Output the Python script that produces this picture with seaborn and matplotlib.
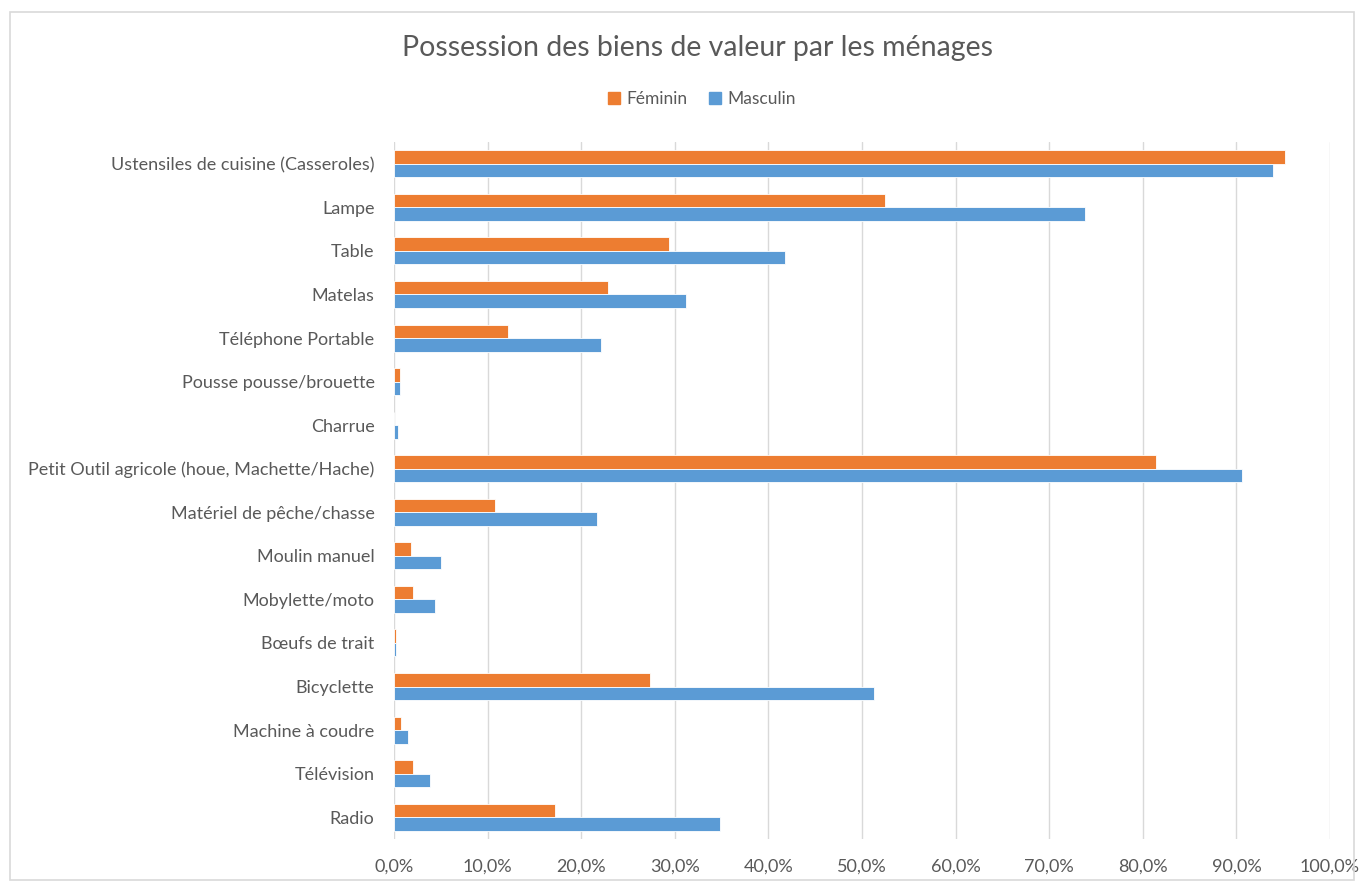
import matplotlib
matplotlib.use("Agg")
import matplotlib.pyplot as plt
import matplotlib.patches as mpatches
from matplotlib.ticker import FuncFormatter, MultipleLocator
import seaborn as sns
import pandas as pd

categories = [
    "Ustensiles de cuisine (Casseroles)",
    "Lampe",
    "Table",
    "Matelas",
    "Téléphone Portable",
    "Pousse pousse/brouette",
    "Charrue",
    "Petit Outil agricole (houe, Machette/Hache)",
    "Matériel de pêche/chasse",
    "Moulin manuel",
    "Mobylette/moto",
    "Bœufs de trait",
    "Bicyclette",
    "Machine à coudre",
    "Télévision",
    "Radio",
]
feminin = [0.952, 0.525, 0.294, 0.229, 0.122, 0.006, 0.000, 0.814, 0.108,
           0.018, 0.020, 0.0025, 0.273, 0.008, 0.020, 0.172]
masculin = [0.939, 0.738, 0.418, 0.312, 0.221, 0.006, 0.004, 0.906, 0.217,
            0.050, 0.044, 0.0025, 0.513, 0.015, 0.038, 0.348]
series_names = ["Féminin", "Masculin"]
colors = ["#ED7D31", "#5B9BD5"]

df = pd.DataFrame({
    "bien": categories * 2,
    "valeur": feminin + masculin,
    "sexe": [series_names[0]] * len(categories) + [series_names[1]] * len(categories),
})

sns.set_theme(style="white")
plt.rcParams["font.family"] = ["Lato", "DejaVu Sans"]
text_color = "#595959"

W, H = 1364, 884
fig = plt.figure(figsize=(W / 100, H / 100), dpi=100)
fig.patch.set_facecolor("white")

ax = fig.add_axes([394 / W, 1 - 839 / H, (1330 - 394) / W, (839 - 142) / H])

sns.barplot(data=df, x="valeur", y="bien", hue="sexe", order=categories,
            hue_order=series_names, palette=colors, saturation=1, width=0.62,
            orient="h", edgecolor="white", linewidth=0.6, ax=ax, legend=False)

ax.set_xlim(0, 1.0)
ax.xaxis.set_major_locator(MultipleLocator(0.1))
ax.xaxis.set_major_formatter(FuncFormatter(lambda v, p: f"{v*100:.1f}%".replace(".", ",")))
ax.grid(axis="x", color="#D9D9D9", linewidth=1.0)
ax.set_axisbelow(True)
for s in ax.spines.values():
    s.set_visible(False)
ax.set_xlabel("")
ax.set_ylabel("")
ax.tick_params(axis="both", length=0, labelsize=13, labelcolor=text_color)
ax.tick_params(axis="y", pad=14)
ax.tick_params(axis="x", pad=14)

fig.text(697 / W, 1 - 48 / H, "Possession des biens de valeur par les ménages",
         ha="center", va="center", fontsize=20.5, color=text_color)

handles = [mpatches.Patch(color=c, label=n) for c, n in zip(colors, series_names)]
fig.legend(handles=handles, loc="center", bbox_to_anchor=(702 / W, 1 - 99 / H),
           ncol=2, frameon=False, fontsize=12.5, handlelength=0.7, handleheight=0.7,
           handletextpad=0.4, columnspacing=1.2, labelcolor=text_color)

border = mpatches.Rectangle((10 / W, 4 / H), (W - 20) / W, (H - 16) / H,
                            transform=fig.transFigure, fill=False,
                            edgecolor="#D9D9D9", linewidth=1.2)
fig.patches.append(border)

fig.savefig("out.png", dpi=100, facecolor="white")
